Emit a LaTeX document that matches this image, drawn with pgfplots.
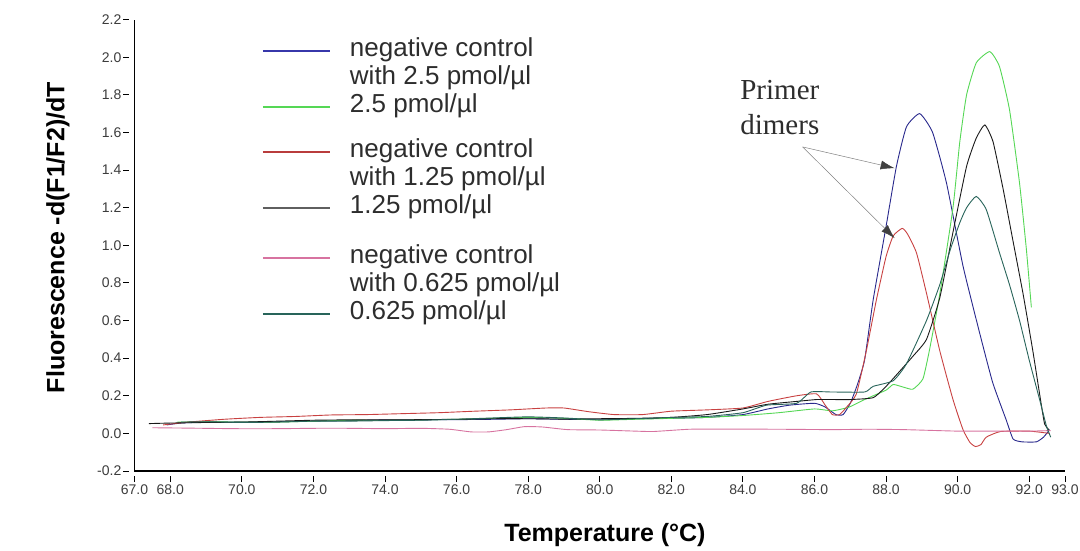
\documentclass[border=0pt]{standalone}
\usepackage{pgfplots}
\pgfplotsset{compat=1.18}
\usepackage{fontspec}
\setmainfont{Liberation Sans}
\newfontfamily\seriffont{Liberation Serif}
\usetikzlibrary{arrows.meta}

\definecolor{cblue}{RGB}{40,40,140}
\definecolor{lblue}{RGB}{55,55,170}
\definecolor{cgreen}{RGB}{85,215,85}
\definecolor{cred}{RGB}{200,65,65}
\definecolor{lred}{RGB}{185,60,60}
\definecolor{cblack}{RGB}{25,25,25}
\definecolor{lblack}{RGB}{95,95,95}
\definecolor{cpink}{RGB}{215,115,160}
\definecolor{cteal}{RGB}{40,100,90}
\definecolor{tickgray}{RGB}{60,60,60}
\definecolor{legtext}{RGB}{45,45,45}

\pgfplotsset{
  base/.style={at={(0pt,0pt)}, anchor=south west, scale only axis,
    width=930.5pt, height=451.4pt, xmin=67, xmax=93, ymin=-0.2, ymax=2.2},
  leg/.style={base, hide axis, legend cell align=left,
    legend image code/.code={\draw[##1, line width=2pt] (0pt,0pt) -- (67pt,0pt);},
    legend style={at={(0.137,#1)}, anchor=north west, draw=none, fill=none,
      inner sep=0pt, outer sep=0pt, row sep=4pt,
      font=\fontsize{26}{28}\selectfont, text=legtext,
      nodes={inner sep=0pt, text height=18pt, text depth=6pt},
      /tikz/every odd column/.append style={column sep=19pt}}}
}

\begin{document}
\begin{tikzpicture}
\path[use as bounding box] (-134.5pt,-79pt) rectangle (945.5pt,471pt);
\begin{axis}[base,
  axis x line*=bottom, axis y line*=left,
  axis line style={line width=1.3pt, black, -},
  xtick={67,68,70,72,74,76,78,80,82,84,86,88,90,92,93},
  ytick={-0.2,0,0.2,0.4,0.6,0.8,1.0,1.2,1.4,1.6,1.8,2.0,2.2},
  tick align=outside, major tick length=6pt,
  xtick style={black, line width=1pt, yshift=-5pt},
  ytick style={black, line width=1pt, xshift=-5pt},
  tick label style={font=\fontsize{14}{16}\selectfont, text=tickgray, inner sep=0pt},
  xticklabel shift=8pt, yticklabel shift=7pt,
  /pgf/number format/fixed, /pgf/number format/fixed zerofill,
  /pgf/number format/precision=1, /pgf/number format/assume math mode=true,
  xlabel={Temperature (°C)}, ylabel={Fluorescence -d(F1/F2)/dT},
  every axis x label/.style={at={(axis description cs:0.5056,-0.157)}, anchor=base,
    font=\bfseries\fontsize{25}{28}\selectfont},
  every axis y label/.style={at={(axis description cs:-0.0822,0.517)}, anchor=center,
    rotate=90, font=\bfseries\fontsize{25}{28}\selectfont},
  every axis plot/.append style={line width=0.9pt, smooth, tension=0.3},
]
% negative control 2.5 (blue)
\addplot[cblue] coordinates {
(67.9,0.045) (68.3,0.055) (69,0.06) (70,0.06) (71,0.062) (72,0.065) (73,0.068)
(74,0.072) (75,0.072) (76,0.073) (77,0.075) (78,0.078) (79,0.075) (80,0.075)
(81,0.078) (82,0.08) (83,0.085) (84,0.1) (84.7,0.13) (85.3,0.15) (86.0,0.16)
(86.3,0.14) (86.6,0.10) (86.8,0.10) (87.0,0.16) (87.2,0.26) (87.4,0.39)
(87.64,0.71) (88.0,1.10) (88.29,1.42) (88.57,1.63) (88.94,1.70) (89.3,1.60)
(89.69,1.33) (90.15,0.89) (90.62,0.53) (90.98,0.27) (91.36,0.07) (91.55,-0.03)
(91.8,-0.045) (92.2,-0.045) (92.4,-0.02) (92.57,0.02)};
% 2.5 (green)
\addplot[cgreen] coordinates {
(68.2,0.06) (69,0.062) (70,0.06) (71,0.06) (72,0.065) (73,0.07) (74,0.07)
(75,0.072) (76,0.075) (77,0.08) (78,0.085) (79,0.08) (80,0.07) (81,0.075)
(82,0.08) (83,0.085) (84,0.095) (85,0.11) (86.0,0.13) (86.5,0.12) (86.97,0.14)
(87.4,0.18) (88.0,0.23) (88.2,0.26) (88.5,0.245) (88.75,0.235) (89.03,0.29)
(89.22,0.45) (89.5,0.74) (89.87,1.2) (90.06,1.55) (90.25,1.8) (90.52,1.97)
(90.9,2.03) (91.17,1.95) (91.45,1.72) (91.73,1.33) (91.92,0.98) (92.06,0.67)};
% negative control 1.25 (red)
\addplot[cred] coordinates {
(67.8,0.045) (68.5,0.06) (69.5,0.075) (70.5,0.085) (71.5,0.09) (72.5,0.098)
(73.5,0.1) (74.5,0.105) (75.5,0.11) (76.5,0.118) (77.5,0.125) (78.5,0.135)
(79,0.135) (79.7,0.115) (80.4,0.1) (81.2,0.1) (82,0.118) (83,0.125) (84,0.135)
(84.7,0.17) (85.5,0.2) (86.06,0.21) (86.3,0.15) (86.5,0.10) (86.7,0.10)
(86.9,0.14) (87.17,0.21) (87.45,0.44) (87.73,0.71) (88.0,0.94) (88.2,1.05)
(88.45,1.09) (88.6,1.06) (88.85,0.96) (89.13,0.745) (89.5,0.44) (89.87,0.18)
(90.15,0.02) (90.35,-0.05) (90.5,-0.07) (90.65,-0.06) (90.8,-0.02) (91.2,0.01)
(92,0.012) (92.57,0.0)};
% 1.25 (black)
\addplot[cblack] coordinates {
(67.4,0.052) (68,0.055) (69,0.058) (70,0.06) (71,0.065) (72,0.07) (73,0.072)
(74,0.072) (75,0.073) (76,0.075) (77,0.078) (78,0.078) (79,0.076) (80,0.078)
(81,0.08) (82,0.085) (83,0.1) (84,0.13) (84.7,0.155) (85.5,0.17) (86.06,0.18)
(86.5,0.18) (87.0,0.18) (87.64,0.19) (88.0,0.25) (88.38,0.33) (88.75,0.41)
(89.13,0.5) (89.5,0.72) (89.87,1.07) (90.25,1.42) (90.52,1.57) (90.76,1.64)
(90.99,1.55) (91.27,1.3) (91.55,1.02) (91.83,0.74) (92.1,0.44) (92.29,0.21)
(92.43,0.05) (92.55,0.02)};
% negative control 0.625 (pink)
\addplot[cpink] coordinates {
(67.5,0.03) (68.5,0.028) (69.8,0.025) (71,0.025) (72,0.027) (73,0.027) (74,0.025)
(75,0.027) (75.8,0.022) (76.4,0.008) (76.9,0.008) (77.4,0.02) (77.9,0.036)
(78.4,0.034) (79.1,0.02) (80,0.018) (81,0.012) (81.5,0.01) (82.5,0.022)
(83.5,0.023) (85,0.022) (86.5,0.02) (87.5,0.022) (88.5,0.02) (90,0.012)
(91,0.012) (92,0.012) (92.6,0.015)};
% 0.625 (teal)
\addplot[cteal] coordinates {
(68.3,0.06) (69,0.062) (70,0.058) (71,0.06) (72,0.065) (73,0.065) (74,0.068)
(75,0.07) (76,0.075) (77,0.082) (78,0.088) (79,0.082) (80,0.072) (81,0.078)
(82,0.085) (83,0.09) (84,0.11) (84.66,0.15) (85.5,0.16) (85.9,0.22) (86.5,0.22)
(87.4,0.22) (87.64,0.25) (88.2,0.28) (88.57,0.37) (89.13,0.6) (89.5,0.79)
(89.8,0.98) (90.06,1.12) (90.25,1.2) (90.52,1.26) (90.8,1.19) (91.17,0.96)
(91.45,0.79) (91.73,0.6) (92.0,0.39) (92.29,0.18) (92.48,0.04) (92.6,-0.02)};

\node[anchor=base west, font=\seriffont\fontsize{29}{32}\selectfont, text=legtext]
  at (axis cs:83.83,1.777) {Primer};
\node[anchor=base west, font=\seriffont\fontsize{29}{32}\selectfont, text=legtext]
  at (axis cs:83.83,1.587) {dimers};
\draw[gray, line width=0.5pt, -{Latex[length=14pt,width=9pt,color=darkgray,fill=darkgray]}]
  (axis cs:85.67,1.523) -- (axis cs:88.24,1.41);
\draw[gray, line width=0.5pt, -{Latex[length=14pt,width=9pt,color=darkgray,fill=darkgray]}]
  (axis cs:85.67,1.523) -- (axis cs:88.24,1.038);
\end{axis}

\begin{axis}[leg=0.9577]
\addlegendimage{lblue}
\addlegendentry{negative control}
\addlegendimage{empty legend}
\addlegendentry{with 2.5 pmol/µl}
\addlegendimage{cgreen}
\addlegendentry{2.5 pmol/µl}
\end{axis}

\begin{axis}[leg=0.7340]
\addlegendimage{lred}
\addlegendentry{negative control}
\addlegendimage{empty legend}
\addlegendentry{with 1.25 pmol/µl}
\addlegendimage{lblack}
\addlegendentry{1.25 pmol/µl}
\end{axis}

\begin{axis}[leg=0.4991]
\addlegendimage{cpink}
\addlegendentry{negative control}
\addlegendimage{empty legend}
\addlegendentry{with 0.625 pmol/µl}
\addlegendimage{cteal}
\addlegendentry{0.625 pmol/µl}
\end{axis}
\end{tikzpicture}
\end{document}
